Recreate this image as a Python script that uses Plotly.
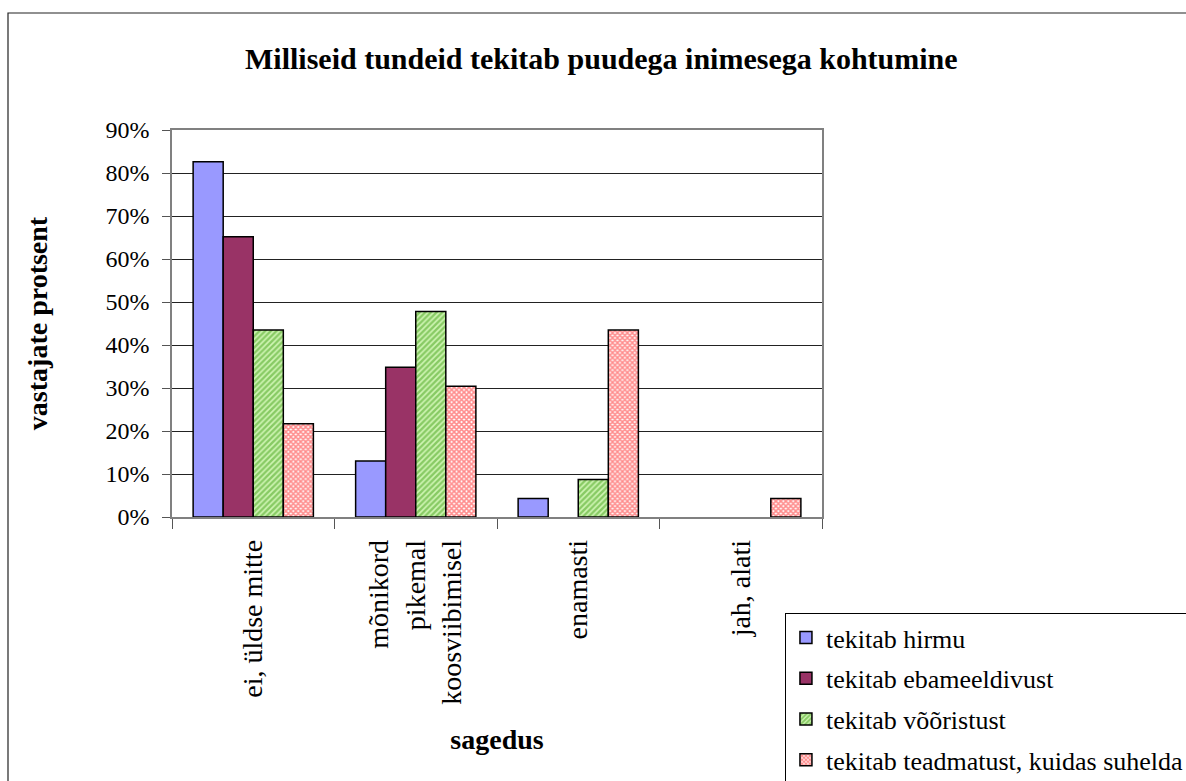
import plotly.graph_objects as go

categories = ["ei, üldse mitte", "mõnikord<br>pikemal<br>koosviibimisel", "enamasti", "jah, alati"]
series_names = ["tekitab hirmu", "tekitab ebameeldivust", "tekitab võõristust", "tekitab teadmatust, kuidas suhelda"]
hirmu = [0.826, 0.130, 0.043, 0.0]
ebameeldivust = [0.652, 0.348, 0.0, 0.0]
vooristust = [0.435, 0.478, 0.087, 0.0]
teadmatust = [0.217, 0.304, 0.435, 0.043]
y_ticks = [0, 0.1, 0.2, 0.3, 0.4, 0.5, 0.6, 0.7, 0.8, 0.9]

FONT = "Liberation Serif"

styles = [
    dict(color="#9999ff"),
    dict(color="#993366"),
    dict(color="#ffffff", pattern=dict(shape="/", fgcolor="#3fa014", bgcolor="#d0f5b4", size=4, solidity=0.6, fillmode="overlay")),
    dict(color="#ffffff", pattern=dict(shape="x", fgcolor="#ff1a1a", bgcolor="#ffffff", size=3.5, solidity=0.7, fillmode="overlay")),
]
values = [hirmu, ebameeldivust, vooristust, teadmatust]

fig = go.Figure()
for i, (name, vals, st) in enumerate(zip(series_names, values, styles)):
    widths = [1.5 if v > 0 else 0 for v in vals]
    marker = dict(line=dict(color="#000000", width=widths), **st)
    fig.add_trace(go.Bar(x=categories, y=vals, name=name, marker=marker, legendgroup=f"g{i}"))

fig.update_layout(
    width=1186, height=781,
    margin=dict(l=172, r=364, t=130, b=264, autoexpand=False),
    paper_bgcolor="white", plot_bgcolor="white",
    barmode="group", bargap=0.26, bargroupgap=0,
    font=dict(family=FONT, color="#000000", size=22),
    title=dict(text="<b>Milliseid tundeid tekitab puudega inimesega kohtumine</b>",
               x=0.507, xanchor="center", y=0.925, yanchor="middle",
               font=dict(family=FONT, size=30, color="#000")),
    showlegend=True,
    legend=dict(x=0.943, xanchor="left", y=-0.248, yanchor="top",
                bgcolor="white", bordercolor="#000000", borderwidth=1,
                font=dict(family=FONT, size=26, color="#000"),
                tracegroupgap=4, traceorder="grouped"),
    xaxis=dict(
        type="category", tickangle=-90, tickson="boundaries", ticks="outside", ticklen=10,
        tickcolor="#555", showline=True, linecolor="#808080", linewidth=1.5, mirror=True,
        tickfont=dict(family=FONT, size=28), showgrid=False, ticklabelstandoff=10,
        title=dict(text="<b>sagedus</b>", font=dict(family=FONT, size=28), standoff=26),
    ),
    yaxis=dict(
        range=[0, 0.9], tickvals=y_ticks, tickformat=".0%", ticks="outside", ticklen=8,
        tickcolor="#555", showline=True, linecolor="#808080", linewidth=1.5, mirror=True,
        showgrid=True, gridcolor="#222", gridwidth=1, zeroline=False,
        tickfont=dict(family=FONT, size=24), ticklabelstandoff=8,
        title=dict(text="<b>vastajate protsent</b>", font=dict(family=FONT, size=28), standoff=50),
    ),
    shapes=[dict(type="rect", xref="paper", yref="paper",
                 x0=(8 - 172) / 650, x1=(1195 - 172) / 650,
                 y0=(517 - 790) / 387, y1=(517 - 13) / 387,
                 line=dict(color="#222", width=1.2), fillcolor="rgba(0,0,0,0)", layer="below")],
)

fig.write_html("out.html")
